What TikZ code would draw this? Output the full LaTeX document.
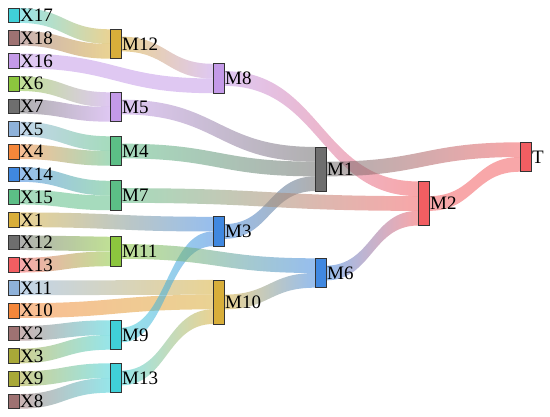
\documentclass[tikz,border=0pt]{standalone}
\usepackage{fontspec}
\setmainfont{Liberation Serif}
\newfontfamily\lblfont{Liberation Serif}
\usetikzlibrary{calc}
\pgfdeclarelayer{bg}
\pgfsetlayers{bg,main}
\definecolor{cTu}{HTML}{40D0D8}
\definecolor{cMa}{HTML}{9E7272}
\definecolor{cLi}{HTML}{C49AE8}
\definecolor{cYg}{HTML}{8CC63E}
\definecolor{cGr}{HTML}{6E6E6E}
\definecolor{cLb}{HTML}{8FB2DA}
\definecolor{cOr}{HTML}{F5873A}
\definecolor{cBl}{HTML}{4088E0}
\definecolor{cGn}{HTML}{5CBE86}
\definecolor{cGo}{HTML}{D8AE3A}
\definecolor{cRe}{HTML}{F25E62}
\definecolor{cOl}{HTML}{A8A838}
\tikzset{
  nd/.style={draw=black!80, line width=0.7pt, rectangle, inner sep=0pt, outer sep=0pt, minimum width=11pt},
  one/.style={nd, minimum height=14.7pt},
  two/.style={nd, minimum height=29.4pt},
  three/.style={nd, minimum height=44.1pt},
  lbl/.style={font=\lblfont\fontsize{19}{21}\selectfont, inner sep=0pt, text=black},
  lk/.style={fill opacity=0.55, shading=axis},
}
\def\bw{14.7pt}
\newcommand\lnk[4]{\shade[lk,left color=#3,right color=#4] let \p1=(#1),\p2=(#2),\p3=($(\p1)!0.5!(\p2)$) in (\p1) .. controls (\x3,\y1) and (\x3,\y2) .. (\p2) -- (\x2,\y2-\bw) .. controls (\x3,\y2-\bw) and (\x3,\y1-\bw) .. (\x1,\y1-\bw) -- cycle;}
\begin{document}
\begin{tikzpicture}[x=1pt,y=-1pt,label distance=1pt]
\useasboundingbox (0,0) rectangle (550,417);
% column 0
\node[one,fill=cTu,label={[lbl]0:X17}] (X17) at (13.5,15.5) {};
\node[one,fill=cMa,label={[lbl]0:X18}] (X18) at (13.5,38.2) {};
\node[one,fill=cLi,label={[lbl]0:X16}] (X16) at (13.5,60.9) {};
\node[one,fill=cYg,label={[lbl]0:X6}] (X6) at (13.5,83.6) {};
\node[one,fill=cGr,label={[lbl]0:X7}] (X7) at (13.5,106.3) {};
\node[one,fill=cLb,label={[lbl]0:X5}] (X5) at (13.5,129) {};
\node[one,fill=cOr,label={[lbl]0:X4}] (X4) at (13.5,151.7) {};
\node[one,fill=cBl,label={[lbl]0:X14}] (X14) at (13.5,174.4) {};
\node[one,fill=cGn,label={[lbl]0:X15}] (X15) at (13.5,197.1) {};
\node[one,fill=cGo,label={[lbl]0:X1}] (X1) at (13.5,219.8) {};
\node[one,fill=cGr,label={[lbl]0:X12}] (X12) at (13.5,242.5) {};
\node[one,fill=cRe,label={[lbl]0:X13}] (X13) at (13.5,265.2) {};
\node[one,fill=cLb,label={[lbl]0:X11}] (X11) at (13.5,287.9) {};
\node[one,fill=cOr,label={[lbl]0:X10}] (X10) at (13.5,310.6) {};
\node[one,fill=cMa,label={[lbl]0:X2}] (X2) at (13.5,333.3) {};
\node[one,fill=cOl,label={[lbl]0:X3}] (X3) at (13.5,356) {};
\node[one,fill=cOl,label={[lbl]0:X9}] (X9) at (13.5,378.7) {};
\node[one,fill=cMa,label={[lbl]0:X8}] (X8) at (13.5,401.4) {};
% column 1
\node[two,fill=cGo,label={[lbl]0:M12}] (M12) at (115.5,44) {};
\node[two,fill=cLi,label={[lbl]0:M5}] (M5) at (115.5,107) {};
\node[two,fill=cGn,label={[lbl]0:M4}] (M4) at (115.5,151) {};
\node[two,fill=cGn,label={[lbl]0:M7}] (M7) at (115.5,195.5) {};
\node[two,fill=cYg,label={[lbl]0:M11}] (M11) at (115.5,251.5) {};
\node[two,fill=cTu,label={[lbl]0:M9}] (M9) at (115.5,335) {};
\node[two,fill=cTu,label={[lbl]0:M13}] (M13) at (115.5,378) {};
% column 2
\node[two,fill=cLi,label={[lbl]0:M8}] (M8) at (218.5,78.5) {};
\node[two,fill=cBl,label={[lbl]0:M3}] (M3) at (218.5,231.5) {};
\node[three,fill=cGo,label={[lbl]0:M10}] (M10) at (218.5,302) {};
% column 3
\node[three,fill=cGr,label={[lbl]0:M1}] (M1) at (320.5,169) {};
\node[two,fill=cBl,label={[lbl]0:M6}] (M6) at (320.5,273) {};
% column 4
\node[three,fill=cRe,label={[lbl]0:M2}] (M2) at (423.5,203.5) {};
% column 5
\node[two,fill=cRe,label={[lbl]0:T}] (T) at (525.5,157) {};
% outgoing (centred) and incoming slots
\foreach \n in {M12,M5,M4,M7,M11,M9,M13,M8,M3,M10,M1,M6,M2}
  \coordinate (\n o) at ($(\n.east)+(0pt,7.35pt)$);
\foreach \n in {M12,M5,M4,M7,M11,M9,M13,M8,M3,M10,M1,M6,M2,T}{
  \coordinate (\n a) at (\n.north west);
  \coordinate (\n b) at ($(\n.north west)+(0pt,-14.7pt)$);
  \coordinate (\n c) at ($(\n.north west)+(0pt,-29.4pt)$);
}
\begin{pgfonlayer}{bg}
\lnk{X17.north east}{M12a}{cTu}{cGo}
\lnk{X18.north east}{M12b}{cMa}{cGo}
\lnk{X16.north east}{M8b}{cLi}{cLi}
\lnk{M12o}{M8a}{cGo}{cLi}
\lnk{X6.north east}{M5a}{cYg}{cLi}
\lnk{X7.north east}{M5b}{cGr}{cLi}
\lnk{X5.north east}{M4a}{cLb}{cGn}
\lnk{X4.north east}{M4b}{cOr}{cGn}
\lnk{X14.north east}{M7a}{cBl}{cGn}
\lnk{X15.north east}{M7b}{cGn}{cGn}
\lnk{X1.north east}{M3a}{cGo}{cBl}
\lnk{X12.north east}{M11a}{cGr}{cYg}
\lnk{X13.north east}{M11b}{cRe}{cYg}
\lnk{X11.north east}{M10a}{cLb}{cGo}
\lnk{X10.north east}{M10b}{cOr}{cGo}
\lnk{X2.north east}{M9a}{cMa}{cTu}
\lnk{X3.north east}{M9b}{cOl}{cTu}
\lnk{X9.north east}{M13a}{cOl}{cTu}
\lnk{X8.north east}{M13b}{cMa}{cTu}
\lnk{M9o}{M3b}{cTu}{cBl}
\lnk{M13o}{M10c}{cTu}{cGo}
\lnk{M5o}{M1a}{cLi}{cGr}
\lnk{M4o}{M1b}{cGn}{cGr}
\lnk{M3o}{M1c}{cBl}{cGr}
\lnk{M11o}{M6a}{cYg}{cBl}
\lnk{M10o}{M6b}{cGo}{cBl}
\lnk{M8o}{M2a}{cLi}{cRe}
\lnk{M7o}{M2b}{cGn}{cRe}
\lnk{M6o}{M2c}{cBl}{cRe}
\lnk{M1o}{Ta}{cGr}{cRe}
\lnk{M2o}{Tb}{cRe}{cRe}
\end{pgfonlayer}
\end{tikzpicture}
\end{document}
